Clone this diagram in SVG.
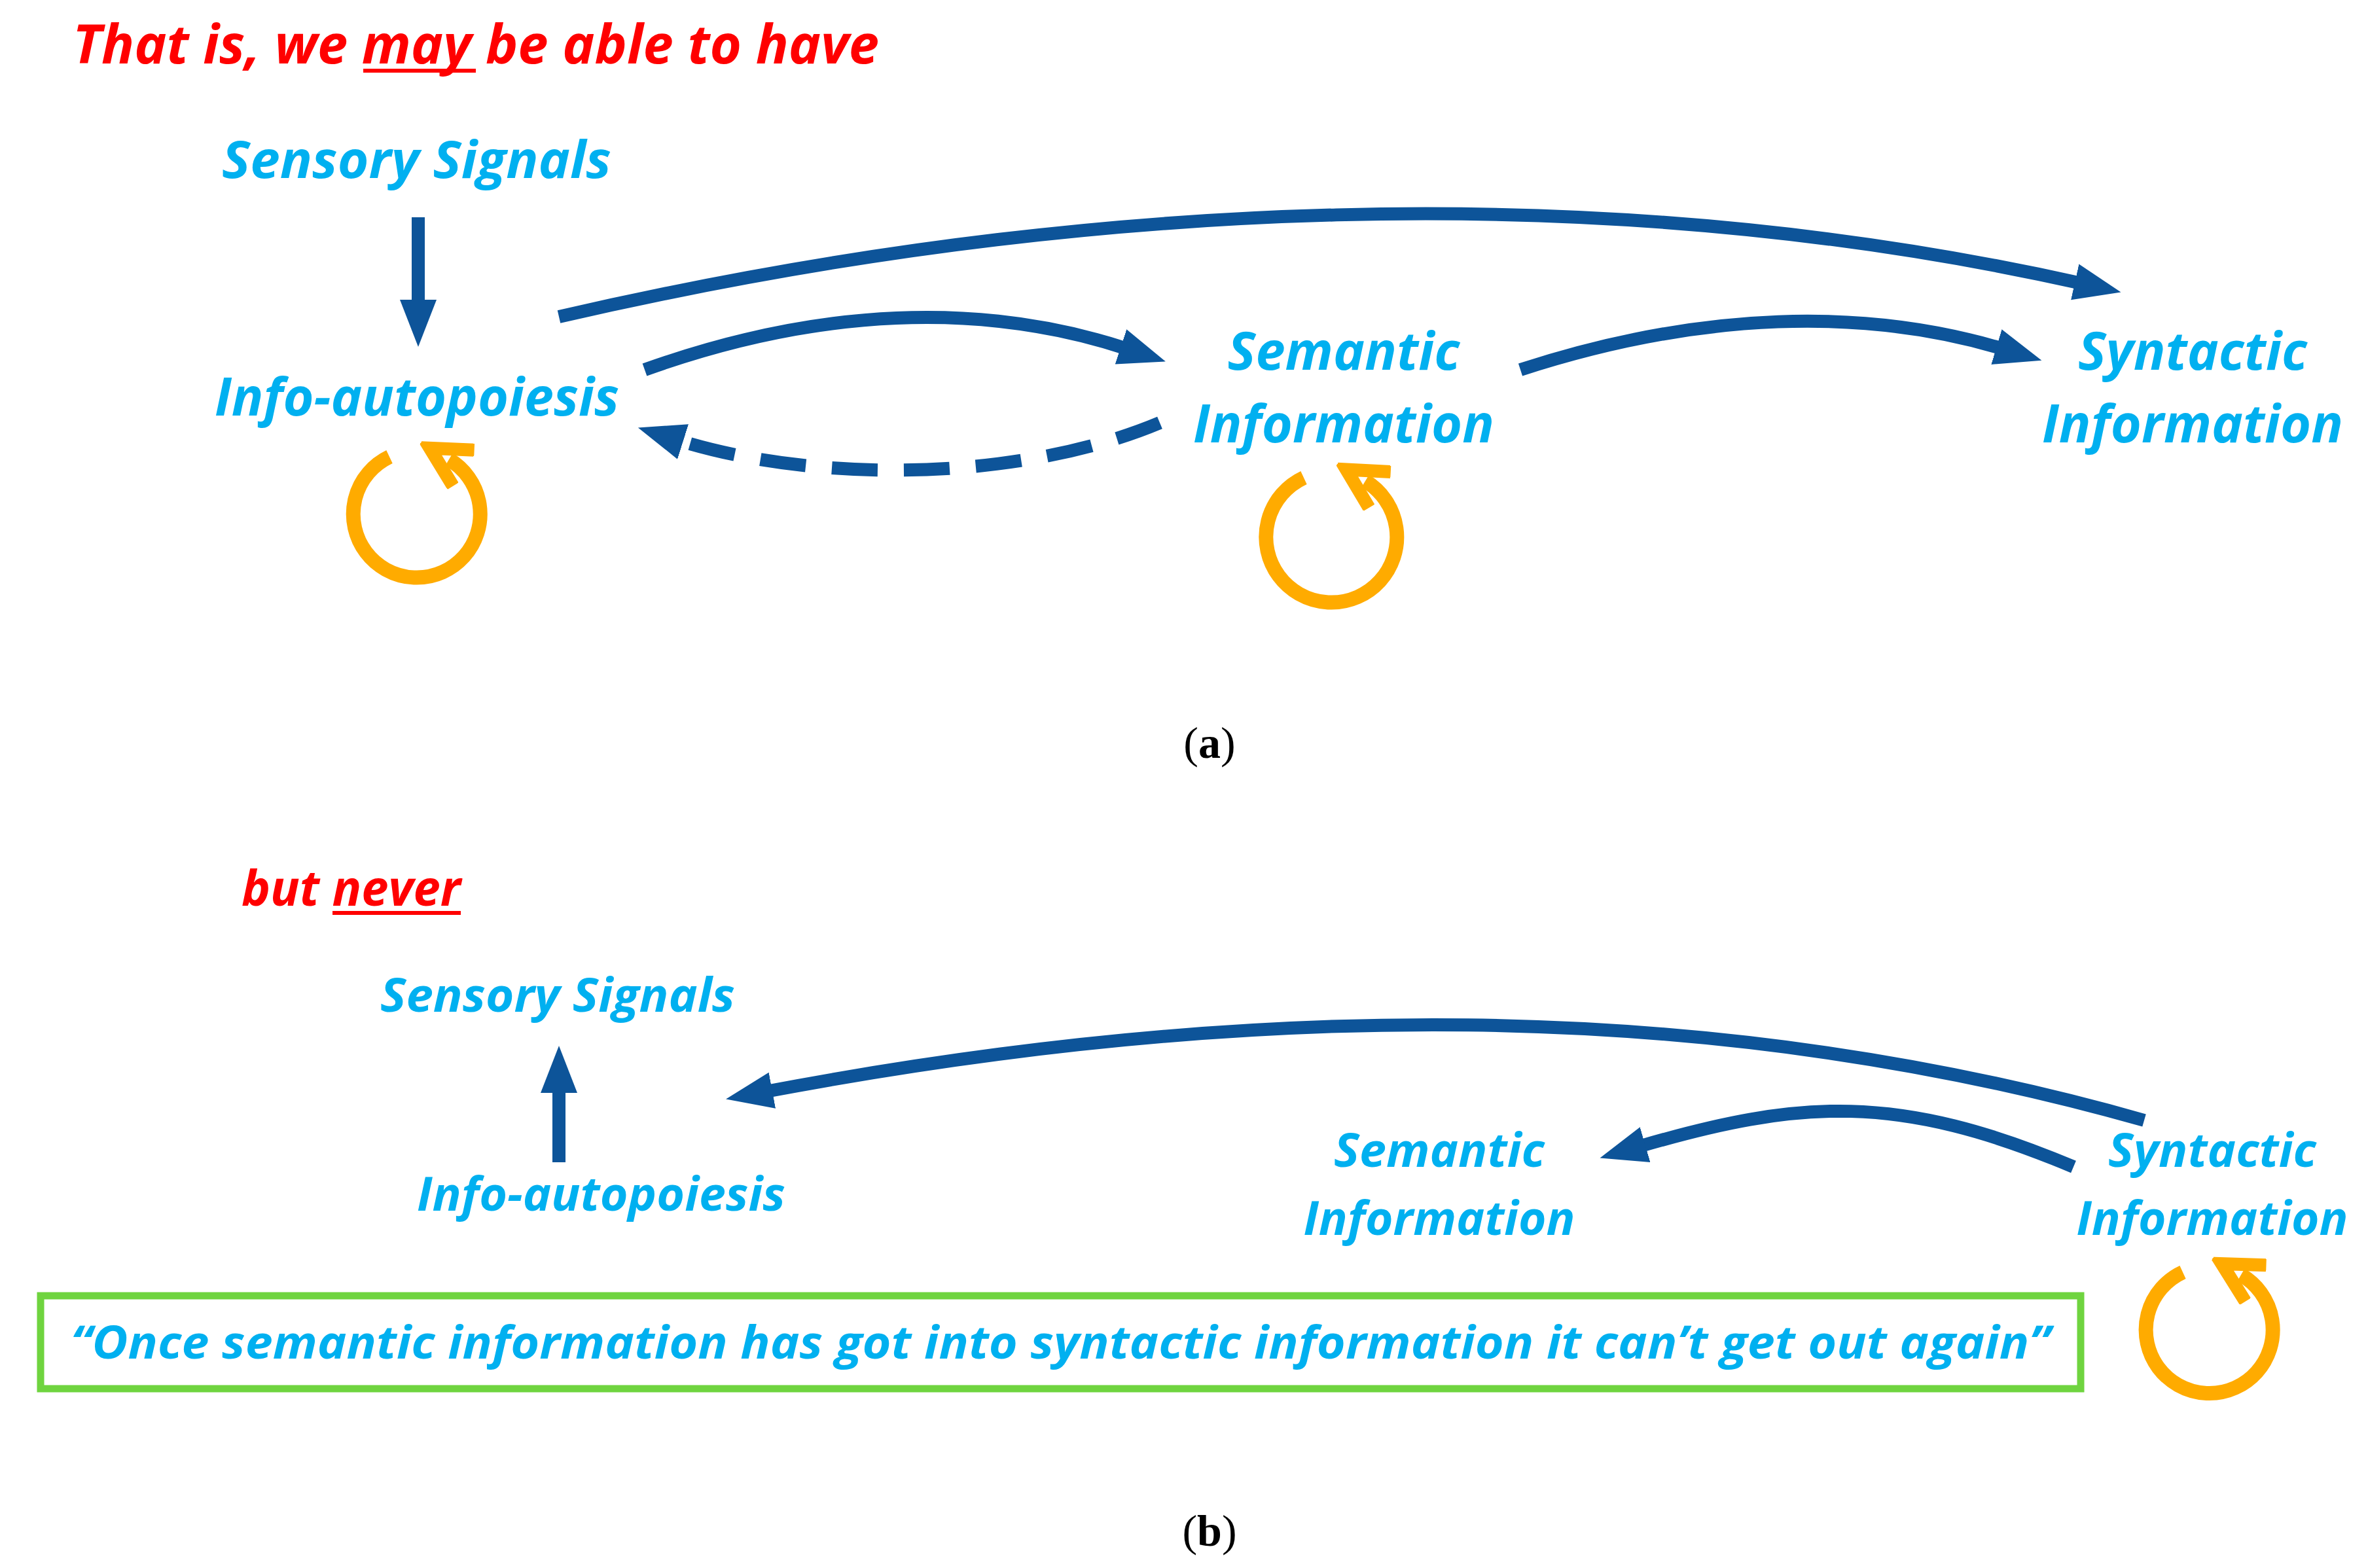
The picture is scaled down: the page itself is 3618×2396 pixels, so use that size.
<svg xmlns="http://www.w3.org/2000/svg" width="3618" height="2396" viewBox="0 0 3618 2396">
<style>
.t{font-family:"Open Sans","Liberation Sans",sans-serif;font-weight:bold;font-style:italic;fill:#00b0f0}
.r{fill:#ff0000}
.c{stroke:#0d5499;stroke-width:20;fill:none}
.loop{stroke:#ffab00;stroke-width:22;fill:none}
.lab{font-family:"Liberation Serif",serif;font-size:68px;fill:#000}
</style>
<defs>
<marker id="ah" markerUnits="userSpaceOnUse" markerWidth="80" markerHeight="80" refX="10" refY="40" orient="auto" viewBox="0 0 80 80">
<path d="M0,12 L72,40 L0,68 Z" fill="#0d5499"/>
</marker>
<marker id="oh" markerUnits="userSpaceOnUse" markerWidth="80" markerHeight="80" refX="30" refY="40" orient="auto" viewBox="0 0 80 80">
<path d="M4,8 L64,40 L4,72" fill="none" stroke="#ffab00" stroke-width="20"/>
</marker>
</defs>
<rect width="3618" height="2396" fill="#fff"/>
<g id="title-a">
<text class="t r" x="111" y="97" font-size="82" textLength="1232" lengthAdjust="spacingAndGlyphs">That is, we may be able to have</text>
<line x1="555" y1="108" x2="727" y2="108" stroke="#ff0000" stroke-width="6"/>
</g>
<g id="a-sensory"><text class="t" x="339" y="272" font-size="78" textLength="595" lengthAdjust="spacingAndGlyphs">Sensory Signals</text></g>
<g id="a-info"><text class="t" x="328" y="635" font-size="80" textLength="618" lengthAdjust="spacingAndGlyphs">Info-autopoiesis</text>
<path class="loop" d="M595,698 A97,97 0 1 0 686,702" marker-end="url(#oh)"/></g>
<g id="a-semantic"><text class="t" x="2053" y="565" font-size="80" text-anchor="middle" textLength="355" lengthAdjust="spacingAndGlyphs">Semantic</text>
<text class="t" x="2053" y="676" font-size="80" text-anchor="middle" textLength="460" lengthAdjust="spacingAndGlyphs">Information</text>
<path class="loop" d="M1992,730 A100,100 0 1 0 2086,735" marker-end="url(#oh)"/></g>
<g id="a-syntactic"><text class="t" x="3350" y="565" font-size="80" text-anchor="middle" textLength="350" lengthAdjust="spacingAndGlyphs">Syntactic</text>
<text class="t" x="3350" y="676" font-size="80" text-anchor="middle" textLength="460" lengthAdjust="spacingAndGlyphs">Information</text></g>
<g id="a-label"><text class="lab" x="1848" y="1158" text-anchor="middle">(<tspan font-weight="bold">a</tspan>)</text></g>
<g id="title-b">
<text class="t r" x="369" y="1384" font-size="76" textLength="335" lengthAdjust="spacingAndGlyphs">but never</text>
<line x1="508" y1="1395" x2="704" y2="1395" stroke="#ff0000" stroke-width="6"/>
</g>
<g id="b-sensory"><text class="t" x="581" y="1546" font-size="72" textLength="542" lengthAdjust="spacingAndGlyphs">Sensory Signals</text></g>
<g id="b-info"><text class="t" x="637" y="1850" font-size="72" textLength="563" lengthAdjust="spacingAndGlyphs">Info-autopoiesis</text></g>
<g id="b-semantic"><text class="t" x="2199" y="1783" font-size="72" text-anchor="middle" textLength="322" lengthAdjust="spacingAndGlyphs">Semantic</text>
<text class="t" x="2199" y="1887" font-size="72" text-anchor="middle" textLength="415" lengthAdjust="spacingAndGlyphs">Information</text></g>
<g id="b-syntactic"><text class="t" x="3380" y="1783" font-size="72" text-anchor="middle" textLength="318" lengthAdjust="spacingAndGlyphs">Syntactic</text>
<text class="t" x="3380" y="1887" font-size="72" text-anchor="middle" textLength="415" lengthAdjust="spacingAndGlyphs">Information</text>
<path class="loop" d="M3335,1944 A97,97 0 1 0 3424,1948" marker-end="url(#oh)"/></g>
<g id="b-quote">
<rect x="62" y="1980" width="3117" height="142" fill="none" stroke="#6fd43f" stroke-width="11"/>
<text class="t" x="108" y="2076" font-size="70" textLength="3025" lengthAdjust="spacingAndGlyphs">“Once semantic information  has got into syntactic information  it can’t get out again”</text>
</g>
<g id="b-label"><text class="lab" x="1848" y="2362" text-anchor="middle">(<tspan font-weight="bold">b</tspan>)</text></g>
<g id="connectors">
<path class="c" d="M639,332 L639,468" marker-end="url(#ah)"/>
<path class="c" d="M985,565 C1250,470 1500,460 1722,533" marker-end="url(#ah)"/>
<path class="c" d="M1772,646 C1560,735 1250,740 1034,672" stroke-dasharray="70,40" marker-end="url(#ah)"/>
<path class="c" d="M854,484 C1650,300 2450,270 3180,433" marker-end="url(#ah)"/>
<path class="c" d="M2323,565 C2600,475 2850,470 3060,533" marker-end="url(#ah)"/>
<path class="c" d="M854,1776 L854,1660" marker-end="url(#ah)"/>
<path class="c" d="M3276,1712 C2600,1520 1900,1530 1170,1668" marker-end="url(#ah)"/>
<path class="c" d="M3168,1783 C2900,1670 2750,1680 2504,1752" marker-end="url(#ah)"/>
</g>
</svg>
